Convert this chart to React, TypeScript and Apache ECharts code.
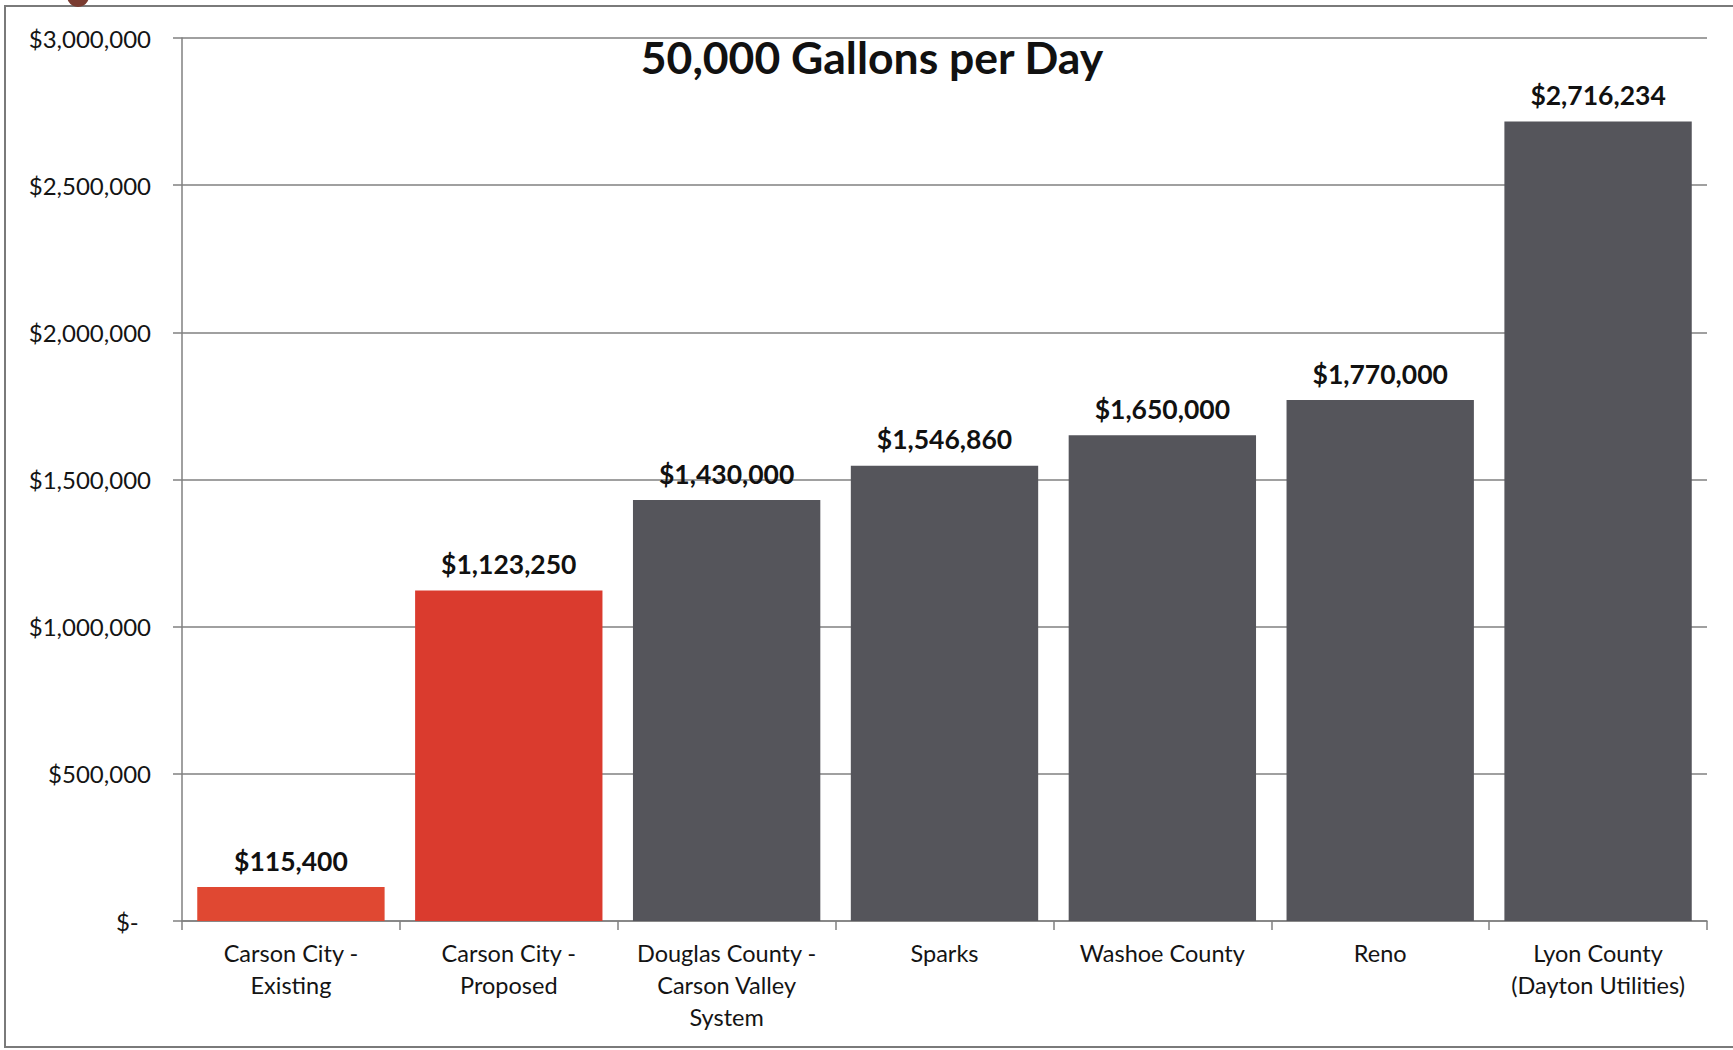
import React, { useEffect, useRef } from "react";
import * as echarts from "echarts";

const categories: string[] = [
  "Carson City -\nExisting",
  "Carson City -\nProposed",
  "Douglas County -\nCarson Valley\nSystem",
  "Sparks",
  "Washoe County",
  "Reno",
  "Lyon County\n(Dayton Utilities)",
];
const costs: number[] = [115400, 1123250, 1430000, 1546860, 1650000, 1770000, 2716234];
const barColors: string[] = ["#E04832", "#DA3B2E", "#55555B", "#55555B", "#55555B", "#55555B", "#55555B"];
const yTicks: number[] = [0, 500000, 1000000, 1500000, 2000000, 2500000, 3000000];
const titleText = "50,000 Gallons per Day";

const FONT = "Lato, 'Open Sans', sans-serif";
const money = (v: number) => "$" + v.toLocaleString("en-US");

export default function App() {
  const ref = useRef<HTMLDivElement>(null);
  useEffect(() => {
    if (!ref.current) return;
    const chart = echarts.init(ref.current, undefined, { renderer: "svg" });
    chart.setOption({
      animation: false,
      backgroundColor: "#ffffff",
      grid: { left: 182, right: 26, top: 38, bottom: 129, containLabel: false },
      xAxis: {
        type: "category",
        data: categories,
        boundaryGap: true,
        axisLine: { show: true, lineStyle: { color: "#808080", width: 1.5 } },
        axisTick: { show: true, length: 9, alignWithLabel: false, lineStyle: { color: "#808080", width: 1.5 } },
        axisLabel: {
          interval: 0,
          margin: 16,
          fontFamily: FONT,
          fontSize: 23.5,
          lineHeight: 32,
          color: "#141414",
        },
      },
      yAxis: {
        type: "value",
        min: yTicks[0],
        max: yTicks[yTicks.length - 1],
        interval: yTicks[1] - yTicks[0],
        axisLine: { show: true, lineStyle: { color: "#808080", width: 1.5 } },
        axisTick: { show: true, length: 9, lineStyle: { color: "#808080", width: 1.5 } },
        splitLine: { show: true, lineStyle: { color: "#808080", width: 1.5 } },
        axisLabel: {
          margin: 31,
          fontFamily: FONT,
          fontSize: 24,
          color: "#141414",
          formatter: (v: number) => (v === 0 ? "$-  " : money(v)),
        },
      },
      series: [
        {
          type: "bar",
          barCategoryGap: "14%",
          data: costs.map((v, i) => ({ value: v, itemStyle: { color: barColors[i] } })),
          label: {
            show: true,
            position: "top",
            distance: 13,
            fontFamily: FONT,
            fontWeight: "bold",
            fontSize: 26.5,
            color: "#111111",
            formatter: (p: any) => money(p.value),
          },
        },
      ],
      graphic: [
        {
          type: "rect",
          shape: { x: 5, y: 6, width: 1800, height: 1041 },
          style: { fill: "none", stroke: "#7a7a7a", lineWidth: 2 },
          silent: true,
          z: -1,
        },
        {
          type: "circle",
          shape: { cx: 78, cy: -4, r: 11 },
          style: { fill: "#7a3b30" },
          silent: true,
        },
        {
          type: "text",
          x: 872,
          y: 56,
          style: {
            text: titleText,
            align: "center",
            verticalAlign: "middle",
            fontFamily: FONT,
            fontWeight: "bold",
            fontSize: 44.5,
            fill: "#111111",
          },
        },
      ],
    });
    return () => chart.dispose();
  }, []);
  return <div ref={ref} style={{ position: "absolute", left: 0, top: 0, width: 1733, height: 1050 }} />;
}
